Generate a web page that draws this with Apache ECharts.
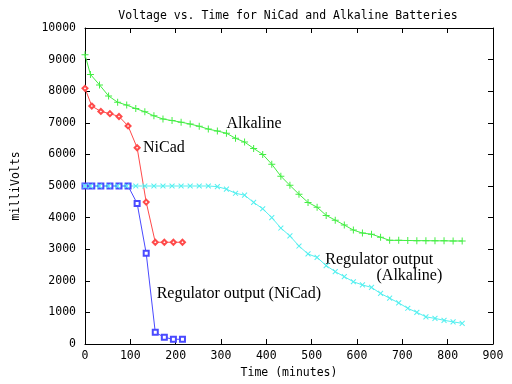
<!DOCTYPE html>
<html>
<head>
<meta charset="utf-8">
<script src="https://cdn.jsdelivr.net/npm/echarts@6/dist/echarts.min.js"></script>
<style>html,body{margin:0;padding:0;background:#fff;}#c{width:512px;height:384px;}</style>
</head>
<body>
<div id="c"></div>
<script>
const xTicks = [0,100,200,300,400,500,600,700,800,900];
const yTicks = [0,1000,2000,3000,4000,5000,6000,7000,8000,9000,10000];

const nicadTime = [0,15,35,55,75,95,115,135,155,175,195,215];
const nicadVolts = [8090,7530,7360,7290,7200,6900,6210,4490,3220,3220,3220,3220];
const nicadRegVolts = [5000,5000,5000,5000,5000,5000,4450,2870,370,210,150,150];

const alkTime = [0,12,32,52,72,92,112,132,152,172,192,212,232,252,272,292,312,332,352,372,392,412,432,452,472,492,512,532,552,572,592,612,632,652,672,692,712,732,752,772,792,812,832];
const alkVolts = [9150,8530,8200,7850,7650,7560,7450,7350,7220,7120,7070,7020,6960,6890,6800,6740,6670,6510,6390,6190,6000,5690,5310,5020,4740,4480,4330,4070,3920,3765,3605,3510,3475,3380,3280,3280,3275,3270,3270,3265,3265,3260,3260];
const alkRegVolts = [5000,5000,5000,5000,5000,5000,5000,5000,5000,5000,5000,5000,5000,5000,5000,4980,4900,4770,4710,4480,4280,4000,3670,3420,3100,2850,2740,2480,2290,2130,1970,1870,1790,1600,1450,1300,1130,1000,860,810,750,700,655];

const titleText = 'Voltage vs. Time for NiCad and Alkaline Batteries';
const labels = [
  {text: 'Alkaline', t: 312, v: 6800},
  {text: 'NiCad', t: 128, v: 6050},
  {text: 'Regulator output', t: 530, v: 2500},
  {text: '(Alkaline)', t: 643, v: 2000},
  {text: 'Regulator output (NiCad)', t: 158, v: 1420}
];

function pairs(xs, ys) { return xs.map((x, i) => [x, ys[i]]); }

const mono = '"DejaVu Sans Mono", monospace';
const serif = '"Liberation Serif", "DejaVu Serif", serif';
const plusPath = 'path://M-0.5,-3.5h1v7h-1zM-3.5,-0.5h7v1h-7z';

const chart = echarts.init(document.getElementById('c'), null, {renderer: 'canvas'});

function axisBase(extra) {
  return Object.assign({
    type: 'value',
    axisLine: {show: true, onZero: false, lineStyle: {color: '#000', width: 1}},
    axisTick: {show: true, inside: true, length: 5, lineStyle: {color: '#000'}},
    splitLine: {show: false}
  }, extra);
}

chart.setOption({
  animation: false,
  backgroundColor: '#fff',
  grid: {left: 85, right: 19, top: 28, bottom: 40},
  xAxis: [
    axisBase({min: 0, max: 900, interval: 100, position: 'bottom',
      name: 'Time (minutes)', nameLocation: 'middle', nameGap: 22,
      nameTextStyle: {fontFamily: mono, fontSize: 11.5, color: '#000'},
      axisLabel: {fontFamily: mono, fontSize: 11.5, color: '#000', margin: 6,
        formatter: v => xTicks.includes(v) ? String(v) : ''}}),
    axisBase({min: 0, max: 900, interval: 100, position: 'top', axisLabel: {show: false}})
  ],
  yAxis: [
    axisBase({min: 0, max: 10000, interval: 1000, position: 'left',
      name: 'milliVolts', nameLocation: 'middle', nameGap: 63, nameRotate: 90,
      nameTextStyle: {fontFamily: mono, fontSize: 11.5, color: '#000'},
      axisLabel: {fontFamily: mono, fontSize: 11.5, color: '#000', margin: 9,
        formatter: v => yTicks.includes(v) ? String(v) : ''}}),
    axisBase({min: 0, max: 10000, interval: 1000, position: 'right', axisLabel: {show: false}})
  ],
  series: [
    {name: 'NiCad', type: 'line', data: pairs(nicadTime, nicadVolts),
      color: '#ff4a4a', lineStyle: {width: 1, color: '#ff4a4a'},
      symbol: 'emptyDiamond', symbolSize: 5, showAllSymbol: true,
      itemStyle: {color: '#ff4a4a', borderColor: '#ff4a4a', borderWidth: 1}},
    {name: 'Alkaline', type: 'line', data: pairs(alkTime, alkVolts),
      color: '#44ee44', lineStyle: {width: 1, color: '#44ee44'},
      symbol: plusPath, symbolSize: 7, showAllSymbol: true,
      itemStyle: {color: '#44ee44'}},
    {name: 'Regulator output (NiCad)', type: 'line', data: pairs(nicadTime, nicadRegVolts),
      color: '#4a4aff', lineStyle: {width: 1, color: '#4a4aff'},
      symbol: 'emptyRect', symbolSize: 5, showAllSymbol: true,
      itemStyle: {color: '#4a4aff', borderColor: '#4a4aff', borderWidth: 1}},
    {name: 'Regulator output (Alkaline)', type: 'line', data: pairs(alkTime, alkRegVolts),
      color: '#55f0f0', lineStyle: {width: 1, color: '#55f0f0'},
      symbol: plusPath, symbolSize: 7, symbolRotate: 45, showAllSymbol: true,
      itemStyle: {color: '#55f0f0'}}
  ]
});

const g = labels.map(l => {
  const p = chart.convertToPixel({xAxisIndex: 0, yAxisIndex: 0}, [l.t, l.v]);
  return {type: 'text', x: p[0], y: p[1] - 5, silent: true,
    style: {text: l.text, font: '16px ' + serif, fill: '#000', textAlign: 'left', textVerticalAlign: 'middle'}};
});
g.push({type: 'text', x: 288, y: 16, silent: true,
  style: {text: titleText, font: '11.5px ' + mono, fill: '#000', textAlign: 'center', textVerticalAlign: 'middle'}});
chart.setOption({graphic: g});
</script>
</body>
</html>
